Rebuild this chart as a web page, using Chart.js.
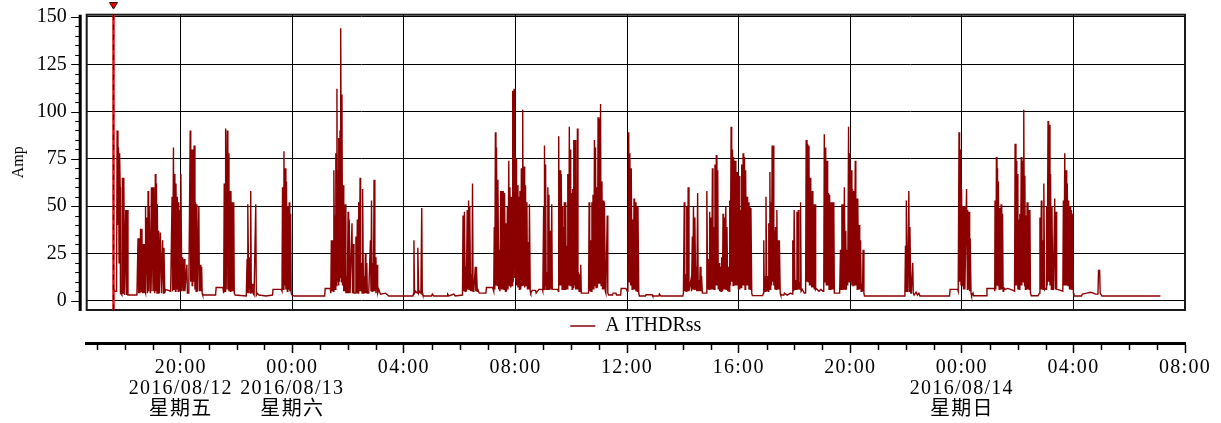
<!DOCTYPE html>
<html><head><meta charset="utf-8">
<script src="https://cdn.jsdelivr.net/npm/chart.js@4/dist/chart.umd.min.js"></script>
<style>html,body{margin:0;padding:0;background:#fff;overflow:hidden}</style>
</head><body>
<canvas id="c" width="1221" height="423"></canvas>
<script>
// ---- data (hours since 2016/08/12 00:00, amps) ----
const times = [
17.58,17.63,17.70,17.72,17.75,17.77,17.79,17.81,17.83,17.84,
17.89,17.91,17.94,17.96,17.99,18.03,18.06,18.08,18.11,18.43,
18.47,18.49,18.51,18.54,18.56,18.59,18.61,18.63,18.66,18.68,
18.71,18.72,18.73,18.75,18.79,18.81,18.83,18.85,18.87,18.91,
18.95,18.97,19.01,19.03,19.04,19.07,19.09,19.11,19.13,19.15,
19.16,19.19,19.21,19.23,19.27,19.31,19.35,19.38,19.40,19.43,
19.45,19.64,19.69,19.71,19.74,19.76,19.79,19.81,19.83,19.86,
19.88,19.91,19.93,19.95,19.98,20.00,20.01,20.04,20.07,20.10,
20.12,20.15,20.17,20.22,20.24,20.29,20.34,20.36,20.39,20.41,
20.43,20.46,20.48,20.51,20.53,20.55,20.58,20.60,20.65,20.67,
20.70,20.72,20.75,20.77,20.79,21.25,21.27,21.51,21.54,21.56,
21.59,21.61,21.63,21.67,21.69,21.71,21.73,21.75,21.78,21.80,
21.83,21.85,21.87,21.90,21.92,21.95,22.35,22.38,22.40,22.41,
22.44,22.47,22.50,22.51,22.53,22.57,22.59,22.63,22.69,22.71,
22.74,22.81,23.05,23.29,23.31,23.60,23.63,23.65,23.67,23.70,
23.72,23.75,23.77,23.79,23.82,23.84,23.87,23.89,23.91,23.94,
23.96,23.99,24.07,
25.16,25.18,25.36,25.38,25.40,25.42,25.44,25.47,25.49,25.52,
25.53,25.55,25.56,25.59,25.60,25.62,25.64,25.66,25.67,25.70,
25.71,25.73,25.74,25.77,25.78,25.80,25.82,25.84,25.85,25.88,
25.90,25.92,25.95,25.97,26.00,26.02,26.04,26.07,26.09,26.14,
26.16,26.19,26.21,26.26,26.28,26.31,26.33,26.36,26.38,26.40,
26.43,26.45,26.48,26.50,26.52,26.55,26.57,26.60,26.62,26.64,
26.67,26.69,26.74,26.80,26.82,26.84,26.86,26.88,26.91,26.93,
26.96,26.98,27.00,27.04,27.06,27.10,27.16,27.34,27.46,28.32,
28.35,28.36,28.38,28.42,28.48,28.50,28.53,28.56,28.61,28.64,
28.66,28.68,28.73,28.99,29.02,29.07,29.55,29.57,29.62,29.79,
29.84,30.10,30.12,30.15,30.17,30.20,30.22,30.24,30.27,30.29,
30.32,30.34,30.36,30.39,30.41,30.44,30.46,30.48,30.51,30.56,
30.58,30.60,30.63,30.65,30.70,30.94,30.96,31.18,31.22,31.24,
31.26,31.28,31.30,31.32,31.35,31.37,31.40,31.42,31.44,31.47,
31.49,31.52,31.54,31.56,31.59,31.61,31.64,31.66,31.68,31.71,
31.73,31.76,31.78,31.80,31.83,31.85,31.88,31.90,31.92,31.95,
31.97,31.98,32.01,32.02,32.04,32.07,32.09,32.12,32.14,32.16,
32.19,32.21,32.24,32.26,32.28,32.31,32.33,32.36,
32.38,32.41,32.43,32.46,32.48,32.50,32.53,32.55,32.60,32.72,
32.74,32.84,32.96,32.98,33.01,33.03,33.04,33.07,33.08,33.10,
33.13,33.15,33.16,33.19,33.20,33.22,33.25,33.27,33.30,33.32,
33.34,33.51,33.54,33.55,33.57,33.60,33.62,33.64,33.67,33.68,
33.70,33.72,33.74,33.75,33.78,33.80,33.82,33.85,33.87,33.88,
33.91,33.93,33.96,33.97,33.99,34.00,34.03,34.05,34.08,34.09,
34.11,34.14,34.16,34.17,34.20,34.22,34.24,34.26,34.28,34.30,
34.33,34.34,34.36,34.40,34.62,34.64,34.66,34.69,34.71,34.74,
34.76,34.78,34.81,34.83,34.86,34.87,34.89,34.92,34.94,34.96,
34.99,35.00,35.02,35.05,35.07,35.10,35.12,35.14,35.17,35.19,
35.22,35.24,35.29,35.31,35.34,35.48,35.50,35.60,35.62,35.77,
35.79,35.96,36.01,36.03,36.06,36.08,36.10,36.13,36.15,36.18,
36.20,36.22,36.25,36.27,36.30,36.32,36.34,36.37,36.39,36.42,
36.44,36.66,36.68,36.90,36.92,37.14,37.16,37.21,38.00,38.02,
38.05,38.07,38.10,38.12,38.14,38.17,38.19,38.22,38.24,38.29,
38.31,38.34,38.36,38.38,38.41,38.43,38.46,38.48,38.50,38.53,
38.55,38.58,38.60,38.62,38.65,38.67,38.70,38.84,38.86,38.89,
38.91,38.94,38.96,38.98,39.01,39.03,39.06,39.08,39.10,39.13,
39.15,39.18,39.20,39.22,39.25,39.27,39.30,39.32,39.34,39.37,
39.39,39.42,39.44,39.46,39.49,39.51,39.54,39.56,39.58,39.61,
39.63,39.66,39.68,39.70,39.73,39.75,39.78,39.80,39.82,39.85,
39.87,39.90,39.92,39.94,39.97,39.99,40.02,40.04,40.06,40.09,
40.11,40.14,40.16,40.18,40.21,40.23,
40.25,40.28,40.30,40.32,40.35,40.37,40.40,40.42,40.44,40.47,
40.49,40.86,40.89,40.90,40.92,40.94,40.96,40.98,41.01,41.03,
41.06,41.08,41.10,41.12,41.14,41.15,41.18,41.20,41.22,41.24,
41.26,41.27,41.30,41.32,41.34,41.37,41.39,41.42,41.44,41.46,
41.49,41.51,41.62,41.64,41.74,41.86,41.92,41.94,41.97,41.99,
42.02,42.04,42.06,42.09,42.11,42.14,42.16,42.18,42.21,42.22,
42.24,42.28,42.35,42.40,42.42,42.45,42.47,42.50,42.52,42.54,
42.56,42.58,42.59,42.62,42.64,42.66,42.69,42.71,42.74,42.76,
42.78,42.88,42.95,43.02,43.05,43.07,43.10,43.12,43.14,43.17,
43.19,43.22,43.24,43.26,43.29,43.31,43.34,43.36,43.38,43.41,
43.43,43.46,43.62,43.65,43.67,43.70,43.72,43.74,43.77,43.79,
43.82,43.84,43.86,43.89,43.91,43.94,43.96,43.98,44.01,44.03,
44.06,44.08,44.10,44.13,44.15,44.18,44.20,44.22,44.25,44.27,
44.30,44.32,44.34,44.37,44.39,44.42,44.44,44.46,44.49,44.51,
45.94,45.96,45.98,46.00,46.01,46.04,46.05,46.07,46.10,46.12,
46.14,46.17,46.19,46.24,46.26,46.29,46.36,46.41,46.46,46.50,
47.56,47.58,47.85,47.87,47.90,47.92,47.94,47.97,47.99,48.02,
48.04,48.06,48.09,48.11,48.14,
48.17,48.20,48.21,48.23,48.26,48.28,48.30,48.33,48.35,48.40,
48.42,48.88,48.90,49.17,49.18,49.19,49.22,49.24,49.26,49.28,
49.30,49.31,49.34,49.36,49.38,49.41,49.43,49.46,49.48,49.50,
49.55,49.65,49.84,49.89,49.91,49.94,49.95,49.97,49.98,50.01,
50.03,50.06,50.08,50.10,50.13,50.15,50.18,50.20,50.22,50.25,
50.26,50.28,50.30,50.32,50.34,50.37,50.39,50.42,50.44,50.46,
50.49,50.73,50.78,50.80,50.82,50.85,50.87,50.90,50.92,50.94,
50.97,50.99,51.02,51.04,51.06,51.09,51.11,51.14,51.16,51.18,
51.21,51.23,51.26,51.28,51.30,51.33,51.35,51.38,51.40,51.42,
51.54,51.62,51.64,51.66,51.69,51.71,51.74,51.76,51.78,51.81,
51.83,51.86,51.88,51.90,51.93,51.95,51.98,52.00,52.02,52.29,
52.32,52.48,52.60,52.72,52.79,52.88,52.90,52.94,52.96,53.02,
55.12
];
const amps = [
7,5,5,90,40,81,20,78,60,4,
3,65,4,65,3,48,3,48,3,3,
33,4,33,4,38,5,38,4,30,4,
30,5,50,4,44,4,58,5,50,4,
60,5,60,5,28,4,67,5,62,4,
51,4,37,4,36,4,32,4,28,4,
6,5,55,5,81,6,67,5,62,6,
55,5,52,5,48,5,67,5,23,5,
22,5,9,19,4,4,90,10,80,8,
80,10,82,6,52,5,51,5,50,5,
19,5,18,4,3,3,7,7,4,62,
5,91,6,90,6,78,5,58,5,58,
5,52,5,52,4,3,2.5,22,4,51,
4,23,4,58,4,9,4,3,51,3,
4,3,2.5,3,6,6,5,60,6,79,
8,70,6,63,5,50,6,52,5,46,
4,3,2.5,
2.5,6.5,6.5,4,32,5,32,5,69,6,
45,6,78,8,112,10,69,8,86,10,
90,12,144,10,109,8,61,5,52,5,
51,4,13,4,47,4,43,4,4,41,
4,30,4,4,34,4,43,4,52,5,
65,5,20,4,59,4,13,4,25,4,
20,4,4,32,5,53,5,20,5,64,
5,23,4,19,4,6,3.5,4,2.5,2.5,
4,32,4,5,4,28,4,5,4,49,
4,3,2.5,2.5,3.5,2.5,2.5,3.5,2.5,3.5,
2.5,3,45,5,47,5,18,5,48,6,
53,6,50,5,14,5,62,5,6,18,
5,18,5,6,4,4,7,7,5,39,
6,89,8,81,8,64,6,27,5,58,
6,58,6,58,6,57,5,41,5,50,
6,74,8,60,7,55,8,111,10,112,
12,102,10,75,8,61,7,55,6,58,
6,70,8,101,8,71,7,61,
8,52,6,31,6,51,5,4,5.5,5.5,
4,6,6,5,50,6,82,8,72,6,
15,6,60,6,56,6,37,6,51,6,
6,6,5,87,8,69,8,67,6,50,
6,39,6,52,6,52,6,29,6,67,
8,92,8,80,8,57,6,59,7,85,
8,85,6,13,6,91,6,15,5,14,
5,19,4,4,4,52,5,32,5,52,
6,56,6,85,8,81,7,60,7,97,
9,96,9,104,8,63,6,53,6,52,
5,4,45,4,3,3,4,4,3,3,
6.5,6.5,5,6,89,10,78,8,70,6,
43,6,54,6,52,5,50,5,50,4,
2.5,2.5,3.2,3.2,2.5,2.5,3.5,2.5,2.5,4,
52,5,14,5,50,5,60,5,7,11,
5,34,6,50,6,44,6,18,5,57,
5,11,5,18,5,13,4,4,58,6,
22,6,47,6,44,6,70,6,39,6,
72,8,77,8,69,6,20,5,18,5,
23,5,46,6,44,6,50,6,39,5,
18,5,53,8,92,10,80,8,76,8,
74,8,68,8,68,6,66,6,48,7,
72,8,78,8,76,6,
69,8,55,8,52,6,50,6,49,4,
2.7,2.7,4,32,5,13,5,55,5,13,
5,41,6,68,6,52,8,82,10,82,
8,37,6,39,6,48,6,32,6,32,
4,3,3,4,3,4,3.5,32,5,48,
6,11,6,47,6,48,6,10,6,52,
5,6,4,4,85,10,83,10,82,8,
65,8,59,7,58,7,51,6,51,6,
6.5,5,6,5,5,88,10,81,8,74,
8,57,6,56,6,52,6,52,6,52,
4,4,4,27,6,51,6,51,6,60,
6,37,6,27,8,92,10,78,10,69,
8,59,8,58,8,74,8,54,6,54,
6,40,6,32,5,9,5,27,4,2.5,
2.5,4,29,5,53,5,13,5,58,5,
39,4,4,20,4,3,4.5,3,4,2.5,
2.5,6,6,5,89,10,80,8,59,8,
50,6,50,6,34,
59,6,48,6,47,5,33,4,2.6,4,
2.6,2.6,6.5,6.5,5,53,6,76,8,70,
8,63,6,49,6,51,6,46,5,7,
6,6.5,5.5,5,83,8,74,8,67,6,
43,6,46,8,76,8,74,10,101,8,
66,6,45,6,52,6,48,6,48,4,
2.6,2.6,4,44,6,53,6,32,6,62,
6,6.5,6,50,8,95,10,93,8,67,
6,50,6,6,6,54,6,47,6,6,
5.5,5,53,8,78,8,69,8,62,8,
53,6,50,6,48,6,46,4,2.5,2.5,
3.5,4,4.5,4,3.5,3.5,16,16,4,2.5,
2.5
];
const seriesName = 'A ITHDRss';
const yTicks = [0, 25, 50, 75, 100, 125, 150];
const tickHours = [20, 24, 28, 32, 36, 40, 44, 48, 52, 56];
const tickTimes = ['20:00','00:00','04:00','08:00','12:00','16:00','20:00','00:00','04:00','08:00'];
const tickDates = ['2016/08/12','2016/08/13','','','','','','2016/08/14','',''];
const tickDays  = ['星期五','星期六','','','','','','星期日','',''];
const cursorTime = 17.58;
const xMin = 16.63, xMax = 56;
const yMin = -4.9, yMax = 151.2;

if (times.length !== amps.length) throw new Error('length mismatch ' + times.length + ' vs ' + amps.length);

const FONT = "'Liberation Serif', 'Noto Sans CJK SC', serif";
Chart.defaults.font.family = FONT;
Chart.defaults.color = '#000';

const decor = {
  id: 'decor',
  afterDraw(chart) {
    const {ctx, chartArea: a, scales} = chart;
    const y = scales.y, x = scales.x, x2 = scales.x2;
    ctx.save();
    // frame
    ctx.strokeStyle = '#1a1a1a';
    ctx.lineWidth = 2;
    ctx.strokeRect(a.left, a.top, a.right - a.left, a.bottom - a.top);
    // detached y axis line
    const ax = a.left - 6.5;
    ctx.strokeStyle = '#000';
    ctx.lineWidth = 3;
    ctx.beginPath(); ctx.moveTo(ax, a.top); ctx.lineTo(ax, a.bottom + 1); ctx.stroke();
    ctx.lineWidth = 1;
    for (let v = yTicks[0]; v <= yTicks[yTicks.length - 1]; v += 5) {
      const py = Math.round(y.getPixelForValue(v)) + 0.5;
      const len = yTicks.includes(v) ? 9 : 5;
      ctx.beginPath(); ctx.moveTo(ax - len, py); ctx.lineTo(ax, py); ctx.stroke();
    }
    // minor hour ticks on the time axis
    ctx.lineWidth = 1.5;
    x2.ticks.forEach(t => {
      if (tickHours.includes(t.value)) return;
      const px = Math.round(x2.getPixelForValue(t.value)) + 0.5;
      ctx.beginPath(); ctx.moveTo(px, x2.top); ctx.lineTo(px, x2.top + 7); ctx.stroke();
    });
    // cursor
    const cx = Math.round(x.getPixelForValue(cursorTime)) + 0.5;
    ctx.strokeStyle = '#e01010';
    ctx.lineWidth = 2.5;
    ctx.beginPath(); ctx.moveTo(cx, a.top); ctx.lineTo(cx, a.bottom); ctx.stroke();
    ctx.strokeStyle = '#000';
    ctx.lineWidth = 1.2;
    ctx.setLineDash([5, 5]);
    ctx.beginPath(); ctx.moveTo(cx, a.top); ctx.lineTo(cx, a.bottom); ctx.stroke();
    ctx.setLineDash([]);
    ctx.fillStyle = '#e00000';
    ctx.strokeStyle = '#400';
    ctx.lineWidth = 1;
    ctx.beginPath(); ctx.moveTo(cx - 4, 2.5); ctx.lineTo(cx + 4, 2.5); ctx.lineTo(cx, 9); ctx.closePath();
    ctx.fill(); ctx.stroke();
    ctx.restore();
  }
};

new Chart(document.getElementById('c'), {
  type: 'line',
  data: {
    datasets: [{
      label: seriesName,
      data: times.map((t, i) => ({x: t, y: amps[i]})),
      borderColor: 'rgb(139,0,0)',
      backgroundColor: 'rgb(139,0,0)',
      borderWidth: 1.4,
      pointRadius: 0,
      tension: 0,
      fill: false
    }]
  },
  options: {
    responsive: false,
    animation: false,
    events: [],
    devicePixelRatio: 1,
    layout: { padding: { top: 14.7, right: 36, bottom: 0, left: 0 } },
    scales: {
      x: {
        type: 'linear', position: 'bottom', min: xMin, max: xMax, weight: 0,
        afterBuildTicks: s => { s.ticks = tickHours.map(v => ({value: v})); },
        afterFit: s => { s.height = 0; },
        ticks: { display: false },
        grid: { color: '#000', lineWidth: 1, drawTicks: false },
        border: { display: false }
      },
      x2: {
        type: 'linear', position: 'bottom', min: xMin, max: xMax, weight: 2000,
        afterBuildTicks: s => {
          const arr = [];
          for (let h = Math.ceil(xMin); h <= xMax; h++) arr.push({value: h});
          s.ticks = arr;
        },
        afterFit: s => { s.height = 80; },
        afterUpdate: s => {
          if (!s._lsWrapped) {
            const base = Object.getPrototypeOf(s).draw;
            s.draw = function (area) {
              const c = this.ctx; c.save(); c.letterSpacing = '1.3px';
              base.call(this, area); c.restore();
            };
            s._lsWrapped = true;
          }
        },
        grid: {
          display: true, drawOnChartArea: false, drawTicks: true, tickLength: 10,
          tickWidth: 1.5,
          tickColor: c => (c.tick && tickHours.includes(c.tick.value)) ? '#000' : 'rgba(0,0,0,0)'
        },
        border: { display: true, width: 3, color: '#000' },
        ticks: {
          autoSkip: false, maxRotation: 0, minRotation: 0, padding: 4.5,
          font: { family: FONT, size: 20, lineHeight: 1.05 }, color: '#000',
          callback: v => {
            const i = tickHours.indexOf(v);
            if (i < 0) return '';
            const lines = [tickTimes[i]];
            if (tickDates[i]) lines.push(tickDates[i]);
            if (tickDays[i]) lines.push(tickDays[i]);
            return lines.length === 1 ? lines[0] : lines;
          }
        }
      },
      y: {
        type: 'linear', position: 'left', min: yMin, max: yMax,
        afterBuildTicks: s => { s.ticks = yTicks.map(v => ({value: v})); },
        afterFit: s => { s.width = 86.7; },
        grid: { color: '#000', lineWidth: 1, drawTicks: true, tickLength: 20, tickColor: 'rgba(0,0,0,0)' },
        border: { display: false },
        ticks: { padding: 0, font: { family: FONT, size: 20 }, color: '#000' },
        title: { display: true, text: 'Amp', font: { family: FONT, size: 16 }, padding: { top: 9, bottom: 0 }, color: '#000' }
      }
    },
    plugins: {
      tooltip: { enabled: false },
      legend: {
        position: 'bottom', fullSize: false, maxHeight: 33,
        labels: {
          usePointStyle: true, pointStyle: 'line', pointStyleWidth: 25,
          padding: 6, color: '#000', font: { family: FONT, size: 20 }
        }
      }
    }
  },
  plugins: [decor]
});
</script>
</body></html>
